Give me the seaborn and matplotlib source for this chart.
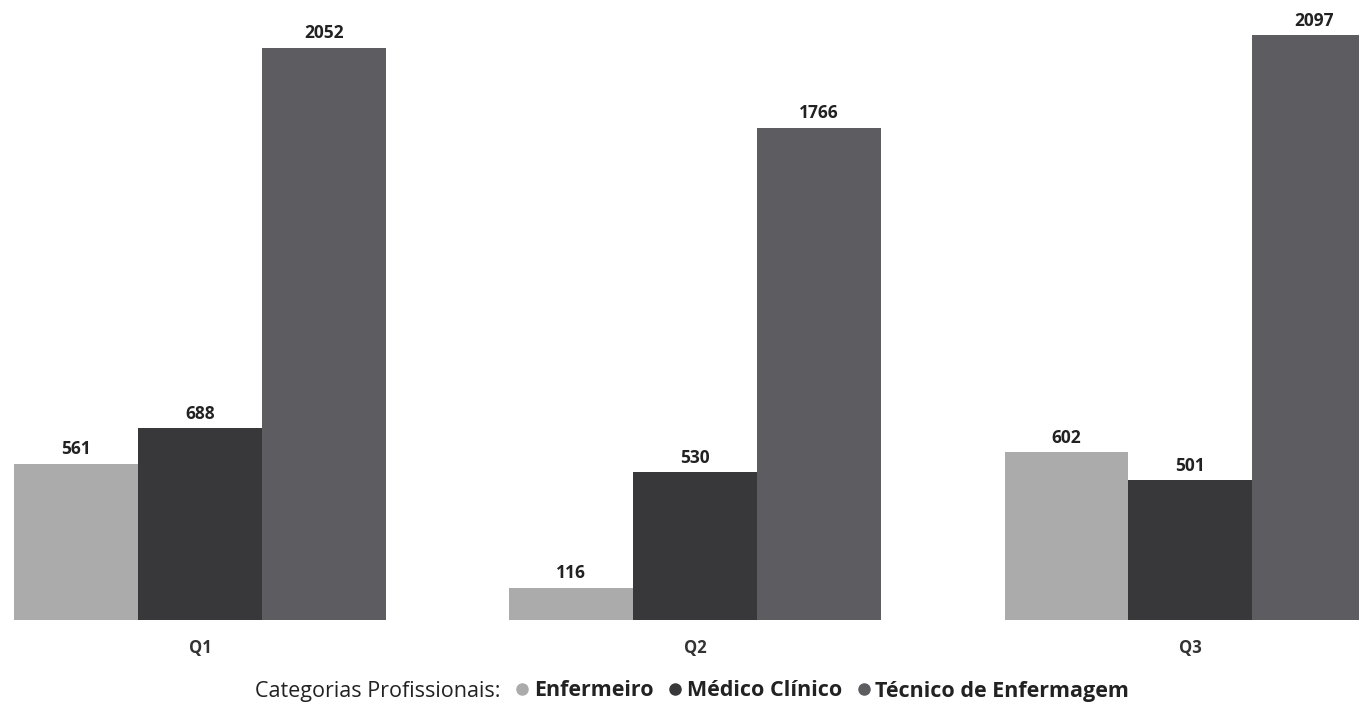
import pandas as pd
import numpy as np

import seaborn as sns
import matplotlib.pyplot as plt
from matplotlib.lines import Line2D

quarters = ['Q1', 'Q2', 'Q3']
categorias = ['Enfermeiro', 'Médico Clínico', 'Técnico de Enfermagem']
enfermeiro = [561, 116, 602]
medico = [688, 530, 501]
tecnico = [2052, 1766, 2097]
cores = ['#ababab', '#38383a', '#5d5d61']

df = pd.DataFrame({
    'quarter': quarters * 3,
    'categoria': np.repeat(categorias, 3),
    'valor': enfermeiro + medico + tecnico,
})

sns.set_style('white')
plt.rcParams['font.family'] = ['Open Sans', 'DejaVu Sans']

fig = plt.figure(figsize=(13.59, 7.07), dpi=100)
ax = fig.add_axes([0, 87 / 707, 1, 620 / 707])

sns.barplot(data=df, x='quarter', y='valor', hue='categoria', hue_order=categorias,
            palette=cores, width=0.75, saturation=1, linewidth=0, ax=ax, legend=False)

for container in ax.containers:
    ax.bar_label(container, padding=4, fontsize=12.5, fontweight='bold', color='#222222')

ax.set_xlim(-0.404, 2.341)
ax.set_ylim(0, 2224)
sns.despine(ax=ax, left=True, bottom=True)
ax.set_yticks([])
ax.set_xlabel('')
ax.set_ylabel('')
ax.tick_params(axis='x', length=0, pad=14)
for t in ax.get_xticklabels():
    t.set_fontsize(12)
    t.set_fontweight('bold')
    t.set_color('#333333')

# legend at the bottom
handles = [Line2D([], [], linestyle='none', label='Categorias Profissionais:')]
for c, nome in zip(cores, categorias):
    handles.append(Line2D([], [], linestyle='none', marker='o', markersize=8,
                          color=c, label=nome))
leg = fig.legend(handles=handles, loc='center', bbox_to_anchor=(0.503, 16 / 707),
                 ncol=4, frameon=False, fontsize=15.5, handlelength=0.5,
                 handletextpad=0.3, columnspacing=0.75)
for i, txt in enumerate(leg.get_texts()):
    txt.set_color('#222222')
    if i > 0:
        txt.set_fontweight('bold')

plt.savefig('out.png', dpi=100)
